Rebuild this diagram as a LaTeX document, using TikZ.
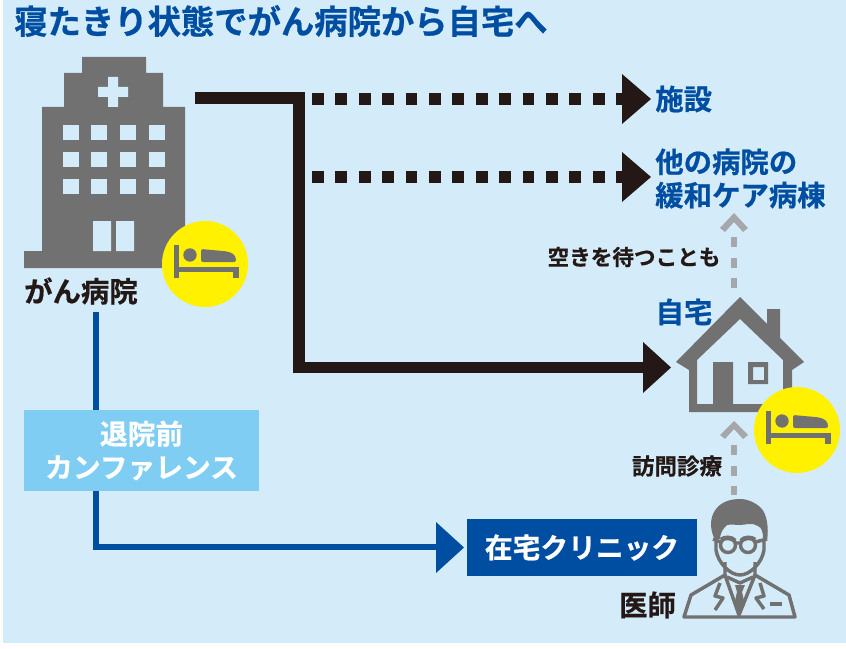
\documentclass[tikz,border=0pt]{standalone}
\usepackage{fontspec}
\setmainfont{Noto Sans CJK JP}[BoldFont={Noto Sans CJK JP Bold},BoldFeatures={FakeBold=0.6}]
\definecolor{bgblue}{RGB}{212,236,249}
\definecolor{iconG}{RGB}{114,113,113}
\definecolor{navy}{RGB}{0,78,162}
\definecolor{sky}{RGB}{127,205,242}
\definecolor{blk}{RGB}{35,24,21}
\definecolor{ygl}{RGB}{255,241,0}
\definecolor{lgray}{RGB}{165,167,170}
\tikzset{x=0.75pt,y=-0.75pt,
 lab/.style={font=\bfseries\fontsize{21.3}{25}\selectfont,text=blk,inner sep=0,align=center},
 blab/.style={font=\bfseries\fontsize{21.3}{25}\selectfont,text=navy,inner sep=0,align=left},
 slab/.style={font=\bfseries\fontsize{16.2}{20}\selectfont,text=blk,inner sep=0},
 boxlab/.style={inner sep=0,font=\bfseries\fontsize{20.8}{25}\selectfont,text=white,align=center},
 dotline/.style={blk,line width=9pt,dash pattern=on 8.8pt off 8.75pt},
 graydash/.style={lgray,line width=4.5pt,dash pattern=on 7.5pt off 8pt},
 pics/bedicon/.style={code={
  \fill[iconG] (-31,-19) rectangle (-26,14);
  \fill[iconG] (-26,3) rectangle (34,8);
  \fill[iconG] (28,8) rectangle (34,14);
  \fill[iconG] (-15,-9) circle (6.7);
  \fill[iconG,rounded corners=1.5pt] (-4,-2) -- (-4,-15) -- (18,-13) .. controls (27,-12) and (31,-9) .. (31,-2) -- cycle;
 }}}
\begin{document}
\begin{tikzpicture}
\useasboundingbox (0,0) rectangle (846,649);
\fill[white] (0,0) rectangle (846,649);
\fill[bgblue] (3,0) rectangle (846,643);
\node[anchor=west,inner sep=0,font=\bfseries\fontsize{25}{28}\selectfont,text=navy] (title) at (14,21) {寝たきり状態でがん病院から自宅へ};
% hospital
\fill[iconG] (82,57) -- (146,57) -- (146,73) -- (163,73) -- (163,107) -- (185,107) -- (185,268) -- (24,268) -- (24,251) -- (42,251) -- (42,107) -- (64,107) -- (64,73) -- (82,73) -- cycle;
\fill[bgblue] (108,77) rectangle (118,107) (98,87) rectangle (128,97);
\foreach \x in {63,91,120,149}\foreach \y in {125,152,179}{\fill[bgblue] (\x,\y) rectangle ++(16,15);}
\fill[bgblue] (93,221) rectangle (111,251) (116,221) rectangle (134,251);
\fill[ygl] (205,264) circle (43);
\pic at (205,264) {bedicon};
\node[lab] (hosp) at (81,291) {がん病院};
% house
\fill[iconG,even odd rule] (740,297) -- (767,324) -- (767,309) -- (780,309) -- (780,338) -- (804,362) -- (792,370) -- (792,412) -- (689,412) -- (689,370) -- (676,362) -- cycle
 (740,319) -- (783,360) -- (783,404) -- (697,404) -- (697,360) -- cycle;
\fill[iconG,even odd rule] (713,362) rectangle (733,404) (748,362) rectangle (768,384) (753,367) rectangle (764,380);
\fill[ygl] (797,430) circle (43);
\pic at (797,430) {bedicon};
\node[blab] (home) at (684,312) {自宅};
% black connectors
\coordinate (hstart) at (195,98);
\coordinate (hturn) at (299,98);
\coordinate (d1s) at (312,99);
\coordinate (d1e) at (622,99);
\coordinate (d2s) at (312,177);
\coordinate (d2e) at (622,177);
\draw[blk,line width=8.5pt] (hstart) -- (hturn) -- (299,367.5) -- (645,367.5);
\fill[blk] (643,342) -- (671,367.5) -- (643,393) -- cycle;
\draw[dotline] (d1s) -- (d1e);
\draw[dotline] (d2s) -- (d2e);
\fill[blk] (622,74) -- (651,99) -- (622,124) -- cycle;
\fill[blk] (622,152) -- (651,177) -- (622,202) -- cycle;
\node[blab,anchor=west] (shisetsu) at (655,99) {施設};
\node[blab,anchor=west] (other) at (655,178.5) {他の病院の\\緩和ケア病棟};
% gray
\coordinate (g1) at (734,237);
\coordinate (g2) at (734,296);
\draw[graydash] (g1) -- (g2);
\fill[lgray] (734,213) -- (748,228) -- (743,232) -- (734,222) -- (725,232) -- (720,228) -- cycle;
\node[slab] (wait) at (634,257) {空きを待つことも};
\coordinate (g3) at (734,445);
\coordinate (g4) at (734,495);
\draw[graydash] (g3) -- (g4);
\fill[lgray] (734,421) -- (748,435) -- (743,439) -- (734,429) -- (725,439) -- (720,435) -- cycle;
\node[slab,font=\bfseries\fontsize{16.9}{20}\selectfont] (visit) at (677,466) {訪問診療};
% blue
\coordinate (b1) at (96,312);
\coordinate (b2) at (96,546.5);
\coordinate (b3) at (438,546.5);
\draw[navy,line width=4.5pt] (b1) -- (b2) -- (b3);
\fill[navy] (436,522) -- (464,547.5) -- (436,573) -- cycle;
\node[fill=sky,minimum width=176.25pt,minimum height=60.75pt,boxlab] (conf) at (141.5,450.5) {退院前\\カンファレンス};
\node[fill=navy,minimum width=172.5pt,minimum height=42.75pt,boxlab] (clinic) at (582,547.5) {在宅クリニック};
\node[lab] (doc) at (647.5,605) {医師};
% doctor
\begin{scope}[iconG,line width=2.6pt,line join=round]
\fill (715,540) .. controls (710,530) and (709,518) .. (716,509) .. controls (722,501) and (732,499) .. (740,499) .. controls (748,499) and (756,503) .. (761,508) .. controls (767,514) and (769,528) .. (767,541) -- (763,539) .. controls (763,532) and (762,528) .. (758,526) .. controls (752,522) and (745,525) .. (740,525) .. controls (733,525) and (727,523) .. (725,527) .. controls (722,530) and (720,535) .. (720,539) -- cycle;
\draw (716,540) -- (716,550) .. controls (718,563) and (730,575) .. (740,575) .. controls (750,575) and (762,563) .. (764,550) -- (764,540);
\draw (728,545) circle (7.5);
\draw (748,545) circle (7.5);
\draw[line width=3.5pt] (721,540) .. controls (724,537) and (732,537) .. (735,541) (741,541) .. controls (744,537) and (752,537) .. (755,540);
\draw (735.5,543) -- (740.5,543) (720.5,542) -- (713,539) (755.5,542) -- (767,539);
\draw (725,562) -- (725,575) -- (691,595) -- (684,617) -- (795,617) -- (789,595) -- (755,575) -- (755,562);
\draw (725,575) -- (739,615) -- (755,575);
\draw (727,577) -- (740,583) -- (753,577);
\fill (735,585) -- (745,585) -- (742,592) -- (745,605) -- (739.5,613) -- (734,605) -- (737,592) -- cycle;
\draw (720,583) -- (715,596) -- (723,598) -- (715,610);
\draw (760,583) -- (764,596) -- (756,598) -- (764,609);
\draw (770,604) -- (782,604);
\end{scope}
\end{tikzpicture}
\end{document}
